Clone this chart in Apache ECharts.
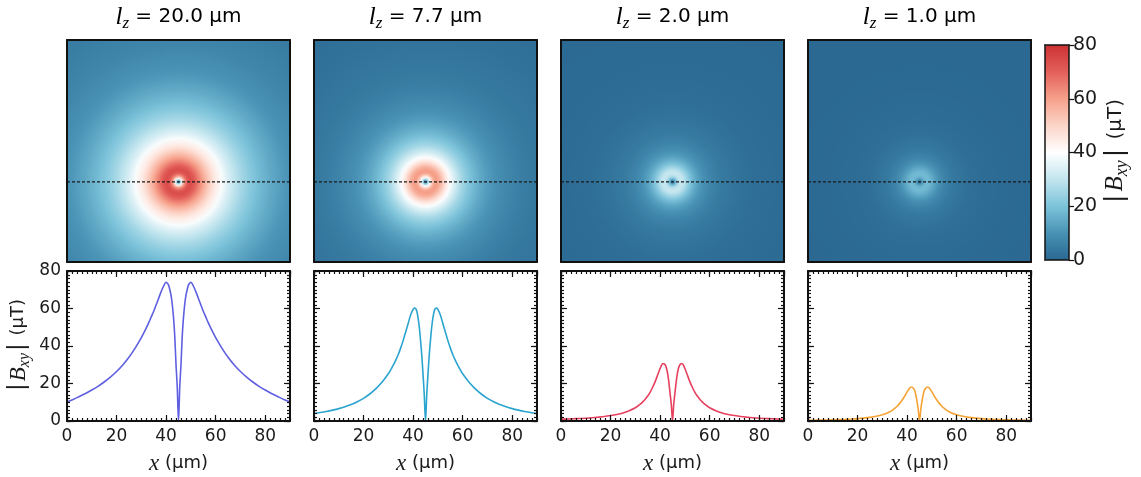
<!DOCTYPE html>
<html>
<head>
<meta charset="utf-8">
<script src="https://cdn.jsdelivr.net/npm/echarts@6.0.0/dist/echarts.min.js"></script>
<style>
  html, body { margin: 0; padding: 0; background: #ffffff; }
  #chart { width: 1141px; height: 477px; }
</style>
</head>
<body>
<div id="chart"></div>
<script>
// In-plane field magnitude |B_xy| (μT) versus distance from the source (μm),
// for four values of l_z. The maps are radially symmetric around the source.
const lzLabels = ['20.0', '7.7', '2.0', '1.0'];
const radius = [0, 0.5, 1, 1.5, 2, 2.5, 3, 3.5, 4, 4.5, 5,
  6, 7, 8, 9, 10, 11, 12, 13, 14, 15,
  17.5, 20, 22.5, 25, 27.5, 30, 32.5, 35, 37.5, 40, 42.5, 45,
  50, 55, 60, 65, 70, 75];
const fieldLz20 = [0, 18, 30, 45, 55, 62, 67, 70, 72.5, 73.5, 74,
  72, 69, 65.5, 62, 58.5, 55.5, 52.5, 49.7, 47, 44.5,
  38.9, 34, 29.9, 26.4, 23.4, 20.8, 18.5, 16.5, 14.7, 13.1, 11.5, 10.2,
  8.5, 7.2, 6.2, 5.4, 4.7, 4.2];
const fieldLz7 = [0, 14, 25, 35, 43, 50, 55, 58.5, 60, 60.3, 59.5,
  56.5, 52, 47.5, 43, 39, 35.5, 32.5, 29.8, 27.4, 25.2,
  20.8, 17.3, 14.4, 12.1, 10.3, 8.8, 7.6, 6.6, 5.8, 5.1, 4.5, 4,
  3.3, 2.8, 2.4, 2.1, 1.9, 1.7];
const fieldLz2 = [0, 9, 15, 21, 25.5, 28.5, 30, 30.5, 30.5, 29.5, 28,
  24.5, 21, 18, 15.4, 13.3, 11.6, 10.2, 9, 8, 7.1,
  5.5, 4.3, 3.5, 2.9, 2.4, 2.05, 1.75, 1.5, 1.33, 1.18, 1.06, 0.95,
  0.8, 0.7, 0.6, 0.5, 0.45, 0.4];
const fieldLz1 = [0, 6, 10.5, 14, 16.5, 17.5, 18, 18, 17.5, 16.5, 15.5,
  13.2, 11.2, 9.4, 7.9, 6.7, 5.7, 4.9, 4.3, 3.8, 3.35,
  2.5, 1.95, 1.55, 1.25, 1.05, 0.88, 0.75, 0.64, 0.56, 0.5, 0.44, 0.4,
  0.35, 0.3, 0.25, 0.22, 0.2, 0.18];
const fields = [fieldLz20, fieldLz7, fieldLz2, fieldLz1];
const lineColors = ['#5f5fe2', '#2ba4cf', '#e6415f', '#f6a335'];
const xTicks = [0, 20, 40, 60, 80];
const yTicks = [0, 20, 40, 60, 80];
const colorbarTicks = [0, 20, 40, 60, 80];
// source position inside each 90 x 90 μm map
const SOURCE_X = 45, SOURCE_Y = 32.5;
const MAP_SIZE = 90;

const chart = echarts.init(document.getElementById('chart'), null, { renderer: 'canvas' });

const panelLeft = [67, 314, 561, 808];
const panelWidth = 223;
const mapTop = 40, mapHeight = 222;
const lineTop = 271, lineHeight = 150;
const TXT = '#1b1b1b';
const SANS = 'DejaVu Sans';
const SERIF = 'Liberation Serif';

function mathStyles(rm, it, sub, gap) {
  return {
    it: { fontFamily: SERIF, fontStyle: 'italic', fontSize: it, lineHeight: it + 6, color: TXT },
    sub: { fontFamily: SERIF, fontStyle: 'italic', fontSize: sub, lineHeight: sub + 2, verticalAlign: 'bottom', color: TXT },
    rm: { fontFamily: SANS, fontSize: rm, lineHeight: it + 6, color: TXT },
    bar: { fontFamily: SANS, fontSize: it, lineHeight: it + 6, color: TXT, padding: [0, gap, 0, gap] }
  };
}
const titleRich = mathStyles(20, 25, 17, 0);
const axisRich = mathStyles(18, 23, 16, 2);
const cbarRich = mathStyles(20, 25, 18, 3);

const grids = [], xAxes = [], yAxes = [], series = [];

function addGrid(left, top, width, height) {
  grids.push({ left, top, width, height, outerBoundsMode: 'none', containLabel: false, show: false });
  return grids.length - 1;
}
function frameLine(width) {
  return { show: true, onZero: false, lineStyle: { color: '#111', width } };
}

// radial rings: each item fills the band between the previous radius and its own
function ringRenderer(params, api) {
  const i = params.dataIndexInside;
  if (i === 0) return null;
  const r1 = api.value(0);
  const r0 = api.value(0, i - 1);
  const c = api.coord([SOURCE_X, SOURCE_Y]);
  const pr1 = api.coord([SOURCE_X + r1, SOURCE_Y])[0] - c[0];
  const pr0 = api.coord([SOURCE_X + r0, SOURCE_Y])[0] - c[0];
  const fill = new echarts.graphic.RadialGradient(c[0], c[1], pr1, [
    { offset: pr0 / pr1, color: api.visual('color', i - 1) },
    { offset: 1, color: api.visual('color', i) }
  ], true);
  const cs = params.coordSys;
  return {
    type: 'circle',
    shape: { cx: c[0], cy: c[1], r: pr1 },
    style: { fill: fill },
    z2: params.dataInsideLength - i,
    silent: true,
    clipPath: { type: 'rect', shape: { x: cs.x, y: cs.y, width: cs.width, height: cs.height } }
  };
}

function profileLine(values) {
  const pts = [];
  for (let k = radius.length - 1; k >= 0; k--) {
    if (radius[k] <= SOURCE_X) pts.push([SOURCE_X - radius[k], values[k]]);
  }
  for (let k = 1; k < radius.length; k++) {
    if (radius[k] <= SOURCE_X) pts.push([SOURCE_X + radius[k], values[k]]);
  }
  return pts;
}

const ringSeriesIdx = [];
const BxyName = '{bar||}{it|B}{sub|xy}{bar||}{rm| (μT)}';

for (let p = 0; p < 4; p++) {
  // field map
  const g = addGrid(panelLeft[p], mapTop, panelWidth, mapHeight);
  const mx = xAxes.length, my = yAxes.length;
  const mapAxis = (pos) => ({ gridIndex: g, type: 'value', min: 0, max: MAP_SIZE, position: pos, z: 10,
    axisLine: frameLine(2), axisTick: { show: false }, axisLabel: { show: false }, splitLine: { show: false } });
  xAxes.push(mapAxis('bottom'), mapAxis('top'));
  yAxes.push(mapAxis('left'), mapAxis('right'));

  ringSeriesIdx.push(series.length);
  series.push({
    type: 'custom', xAxisIndex: mx, yAxisIndex: my, silent: true, z: 1,
    renderItem: ringRenderer,
    encode: { x: 0, y: 1 },
    data: radius.map((r, k) => [r, fields[p][k]])
  });
  series.push({
    type: 'line', xAxisIndex: mx, yAxisIndex: my, silent: true, z: 5,
    symbol: 'none', animation: false,
    lineStyle: { color: '#1a1a1a', width: 1.1, type: [3, 2] },
    data: [[0, SOURCE_Y], [MAP_SIZE, SOURCE_Y]]
  });

  // line cut along the dashed line
  const lg = addGrid(panelLeft[p], lineTop, panelWidth, lineHeight);
  const lx = xAxes.length, ly = yAxes.length;
  const tickIn = (len) => ({ show: true, inside: true, length: len, lineStyle: { color: '#111', width: 1.2 } });
  xAxes.push({ gridIndex: lg, type: 'value', min: 0, max: MAP_SIZE, interval: 20, position: 'bottom', z: 10,
    axisLine: frameLine(2), axisTick: tickIn(6), splitLine: { show: false },
    axisLabel: { show: true, margin: 7, fontFamily: SANS, fontSize: 17, color: TXT, showMaxLabel: false,
      formatter: (v) => (xTicks.indexOf(v) >= 0 ? String(v) : '') },
    name: '{it|x}{rm| (μm)}', nameLocation: 'middle', nameGap: 28,
    nameTextStyle: { fontFamily: SANS, fontSize: 18, color: TXT, rich: axisRich } });
  xAxes.push({ gridIndex: lg, type: 'value', min: 0, max: MAP_SIZE, interval: 20, position: 'top', z: 10,
    axisLine: frameLine(2), axisTick: tickIn(6), splitLine: { show: false }, axisLabel: { show: false } });
  yAxes.push({ gridIndex: lg, type: 'value', min: 0, max: 80, interval: 20, position: 'left', z: 10,
    axisLine: frameLine(2), axisTick: tickIn(6), splitLine: { show: false },
    axisLabel: { show: p === 0, margin: 6, fontFamily: SANS, fontSize: 17, color: TXT,
      formatter: (v) => (yTicks.indexOf(v) >= 0 ? String(v) : '') },
    name: p === 0 ? BxyName : '', nameLocation: 'middle', nameGap: 34, nameRotate: 90,
    nameTextStyle: { fontFamily: SANS, fontSize: 18, color: TXT, rich: axisRich } });
  yAxes.push({ gridIndex: lg, type: 'value', min: 0, max: 80, interval: 20, position: 'right', z: 10,
    axisLine: frameLine(2), axisTick: tickIn(6), splitLine: { show: false }, axisLabel: { show: false } });

  series.push({
    type: 'line', xAxisIndex: lx, yAxisIndex: ly, z: 4, silent: true,
    symbol: 'none', smooth: 0.3, animation: false, clip: true,
    lineStyle: { color: lineColors[p], width: 1.6 },
    data: profileLine(fields[p])
  });

  // minor ticks on an overlaid grid
  const mg = addGrid(panelLeft[p], lineTop, panelWidth, lineHeight);
  const minorAxis = (pos, max) => ({ gridIndex: mg, type: 'value', min: 0, max: max, interval: 2, position: pos, z: 9,
    axisLine: { show: false, onZero: false }, axisTick: tickIn(3), axisLabel: { show: false }, splitLine: { show: false } });
  xAxes.push(minorAxis('bottom', MAP_SIZE), minorAxis('top', MAP_SIZE));
  yAxes.push(minorAxis('left', 80), minorAxis('right', 80));
}

// colour bar frame and scale
const cbLeft = 1045, cbTop = 45, cbWidth = 24, cbHeight = 215;
const cg = addGrid(cbLeft, cbTop, cbWidth, cbHeight);
const cbFrame = (pos, max) => ({ gridIndex: cg, type: 'value', min: 0, max: max, position: pos, z: 10,
  axisLine: frameLine(1.5), axisTick: { show: false }, axisLabel: { show: false }, splitLine: { show: false } });
xAxes.push(cbFrame('bottom', 1), cbFrame('top', 1));
yAxes.push(cbFrame('left', 80));
yAxes.push({ gridIndex: cg, type: 'value', min: 0, max: 80, interval: 20, position: 'right', z: 10,
  axisLine: frameLine(1.5), splitLine: { show: false },
  axisTick: { show: true, inside: false, length: 5, lineStyle: { color: '#111', width: 1.2 } },
  axisLabel: { show: true, margin: 4, fontFamily: SANS, fontSize: 19, color: TXT,
    formatter: (v) => (colorbarTicks.indexOf(v) >= 0 ? String(v) : '') },
  name: BxyName, nameLocation: 'middle', nameGap: 31, nameRotate: 90,
  nameTextStyle: { fontFamily: SANS, fontSize: 20, color: TXT, rich: cbarRich } });

const titleGraphics = lzLabels.map((lz, p) => ({
  type: 'text',
  x: panelLeft[p] + panelWidth / 2,
  y: 17,
  silent: true,
  style: {
    text: '{it|l}{sub|z}{rm| = ' + lz + ' μm}',
    rich: titleRich,
    align: 'center',
    verticalAlign: 'middle',
    textAlign: 'center',
    textVerticalAlign: 'middle'
  }
}));

chart.setOption({
  animation: false,
  backgroundColor: '#ffffff',
  grid: grids,
  xAxis: xAxes,
  yAxis: yAxes,
  visualMap: {
    type: 'continuous',
    min: 0, max: 80,
    dimension: 1,
    seriesIndex: ringSeriesIdx,
    orient: 'vertical',
    left: cbLeft, top: cbTop,
    itemWidth: cbWidth, itemHeight: cbHeight,
    padding: 0,
    calculable: false,
    hoverLink: false,
    text: null,
    showLabel: false,
    inRange: { color: ['#2a6891', '#4892b5', '#7cc3da', '#c2e5ee', '#ffffff', '#fcd5c8', '#f6a08a', '#e3605a', '#cc3133'] }
  },
  graphic: titleGraphics,
  series: series
});
</script>
</body>
</html>
